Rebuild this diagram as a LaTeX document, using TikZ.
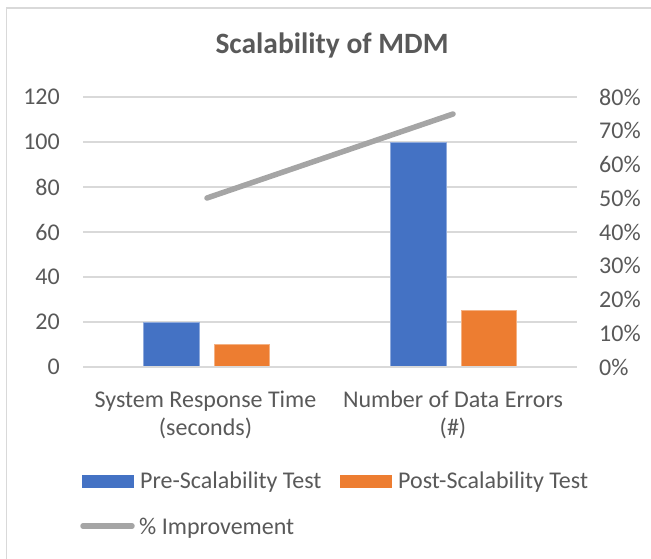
\documentclass[tikz,border=0pt]{standalone}
\usepackage{fontspec}
\setmainfont{Carlito}
\usetikzlibrary{positioning}

\definecolor{preblue}{HTML}{4472C4}
\definecolor{postorange}{HTML}{ED7D31}
\definecolor{imprgray}{HTML}{A5A5A5}
\definecolor{gridgray}{HTML}{D9D9D9}
\definecolor{textgray}{HTML}{595959}

\begin{document}
\begin{tikzpicture}[
    x=1pt, y=-1pt,
    font=\fontsize{24}{28.5}\selectfont,
    every node/.style={text=textgray, inner sep=0pt},
    title/.style={font=\fontsize{29.5}{34}\selectfont\bfseries},
    gridline/.style={draw=gridgray, line width=1.3pt},
    ticklabel/.style={anchor=east},
    pctlabel/.style={anchor=west},
    catlabel/.style={align=center, anchor=base},
    prebar/.style={fill=preblue, draw=preblue!60!white, line width=0.6pt},
    postbar/.style={fill=postorange, draw=postorange!60!white, line width=0.6pt},
    imprline/.style={draw=imprgray, line width=5.5pt, line cap=round},
    swatch/.style={minimum width=52pt, minimum height=13pt, anchor=west},
    legendtext/.style={anchor=base west}
]
\useasboundingbox (0,0) rectangle (651,558);

% Chart frame
\draw[gridgray, line width=1.3pt] (6.5,560) -- (6.5,8) -- (660,8);

% Title
\node[title, anchor=base] (title) at (332,53) {Scalability of MDM};

% Gridlines and axis labels
\foreach \v [count=\i from 0] in {0,20,40,60,80,100,120} {
    \draw[gridline] (83,367-45*\i) -- (577,367-45*\i);
    \node[ticklabel] (left\i) at (60,367-45*\i) {\v};
}
\foreach \p [count=\i from 0] in {0\%,10\%,20\%,30\%,40\%,50\%,60\%,70\%,80\%} {
    \node[pctlabel] (right\i) at (599,367-33.75*\i) {\p};
}

% Bars
\fill[prebar] (143,367) rectangle (199,322);
\fill[postbar] (214,367) rectangle (269,344.5);
\fill[prebar] (390,367) rectangle (446,142);
\fill[postbar] (461,367) rectangle (516,310.75);
\draw[gridline] (83,367) -- (577,367);

% % Improvement line
\coordinate (imprA) at (207,198);
\coordinate (imprB) at (453,114);
\draw[imprline] (imprA) -- (imprB);

% Category labels
\node[catlabel] (cat1) at (205.5,435.5) {System Response Time\\(seconds)};
\node[catlabel] (cat2) at (453,435.5) {Number of Data Errors\\(\#)};

% Legend
\node[swatch, fill=preblue] (legpre) at (82,481.5) {};
\node[legendtext] (legpretext) at (140,488) {Pre-Scalability Test};
\node[swatch, fill=postorange] (legpost) at (340,481.5) {};
\node[legendtext] (legposttext) at (398,488) {Post-Scalability Test};
\coordinate (legimprA) at (83,526);
\coordinate (legimprB) at (132,526);
\draw[imprline] (legimprA) -- (legimprB);
\node[legendtext] (legimprtext) at (139,534) {\% Improvement};

\end{tikzpicture}
\end{document}
